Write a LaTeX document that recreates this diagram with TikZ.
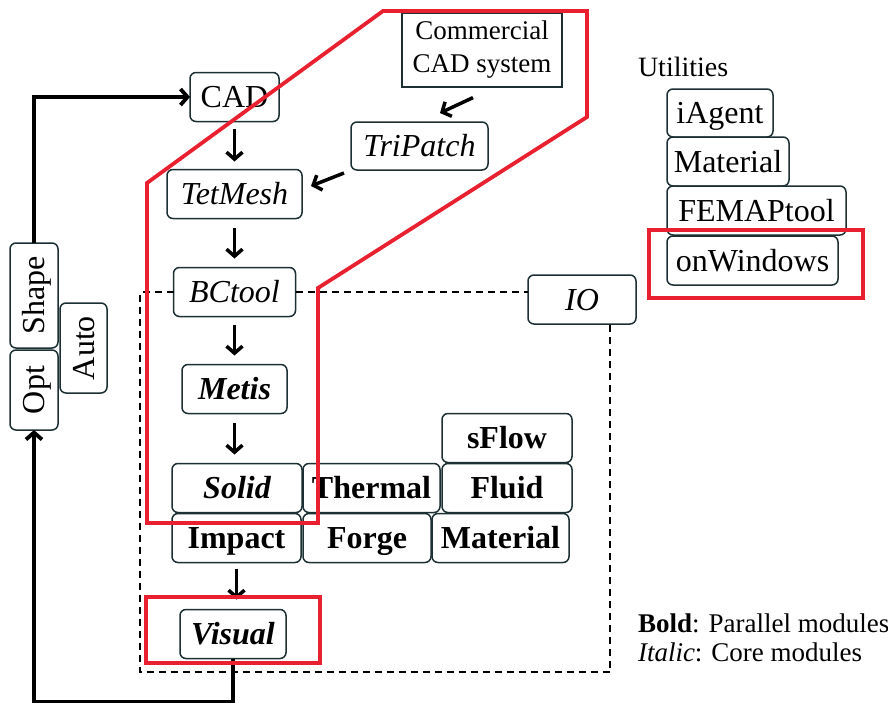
\documentclass[tikz,border=0pt]{standalone}
\usepackage{fontspec}
\setmainfont{Liberation Serif}
\usepackage{tikz}
\usetikzlibrary{arrows.meta, positioning, calc}
\definecolor{framered}{RGB}{232, 32, 48}
\definecolor{boxline}{RGB}{28, 48, 52}

\begin{document}
\begin{tikzpicture}[x=1pt, y=-1pt,
			module/.style={rectangle, rounded corners=6pt, draw=boxline, line width=1.5pt, fill=white, inner sep=0pt, outer sep=0pt, minimum height=49pt, text height=24pt, text depth=3pt, font=\fontsize{32}{38}\selectfont},
			note/.style={inner sep=0pt, outer sep=0pt, font=\fontsize{27}{33}\selectfont},
			arrow/.style={-{Straight Barb[length=7pt, width=16pt]}, line width=3.5pt},
			feedback/.style={-{Straight Barb[length=7pt, width=16pt]}, line width=3.8pt},
			dashbox/.style={dash pattern=on 7pt off 5pt, line width=1.8pt},
			redframe/.style={draw=framered, line width=3.8pt}
		]
		\useasboundingbox (0,0) rectangle (888,704);
		% main column
		\node[module, minimum width=89pt] (cad) at (234.5,97) {CAD};
		\node[module, minimum width=135pt, below=48pt of cad] (tetmesh) {\itshape TetMesh};
		\node[module, minimum width=122pt, below=49pt of tetmesh] (bctool) {\itshape BCtool};
		\node[module, minimum width=105pt, below=48pt of bctool] (metis) {\bfseries\itshape Metis};
		% parallel modules
		\node[module, minimum width=130pt, below=50pt of metis, xshift=2.5pt] (solid) {\bfseries\itshape Solid};
		\node[module, minimum width=137pt, right=1pt of solid] (thermal) {\bfseries Thermal};
		\node[module, minimum width=130pt, right=2pt of thermal] (fluid) {\bfseries Fluid};
		\node[module, minimum width=130pt, above=1pt of fluid] (sflow) {\bfseries sFlow};
		\node[module, minimum width=129pt, below=1pt of solid.south west, anchor=north west] (impact) {\bfseries Impact};
		\node[module, minimum width=128pt, right=2pt of impact] (forge) {\bfseries Forge};
		\node[module, minimum width=137pt, right=1pt of forge] (material) {\bfseries Material};
		\node[module, minimum width=106pt, below=47pt of impact, xshift=-3.5pt] (visual) {\bfseries\itshape Visual};
		% side nodes
		\node[rectangle, draw=boxline, line width=1.2pt, minimum width=160pt, minimum height=74pt, align=center, font=\fontsize{27}{33}\selectfont] (commercial) at (482,50) {Commercial\\CAD system};
		\node[module, minimum width=137pt, minimum height=48pt] (tripatch) at (419.5,146) {\itshape TriPatch};
		\node[module, minimum width=108pt] (io) at (582,299.5) {\itshape IO};
		\node[module, rotate=90, minimum width=105pt, minimum height=48pt] (shape) at (34,295.5) {Shape};
		\node[module, rotate=90, minimum width=80pt, minimum height=48pt] (opt) at (34,390) {Opt};
		\node[module, rotate=90, minimum width=90pt, minimum height=47pt] (auto) at (83.5,348) {Auto};
		% utilities
		\node[note, anchor=west, font=\fontsize{28}{33}\selectfont] (utilities) at (638,67) {Utilities};
		\node[module, minimum width=106pt, minimum height=48pt, anchor=north west] (iagent) at (667,89) {iAgent};
		\node[module, minimum width=122pt, below=0pt of iagent.south west, anchor=north west] (utilmat) {Material};
		\node[module, minimum width=179pt, below=0pt of utilmat.south west, anchor=north west] (femap) {FEMAPtool};
		\node[module, minimum width=171pt, below=1pt of femap.south west, anchor=north west] (onwin) {onWindows};
		% legend
		\node[note, anchor=west] (legbold) at (638,623) {\textbf{Bold}: Parallel modules};
		\node[note, anchor=west] (legital) at (638,652) {\textit{Italic}: Core modules};

		\draw[arrow, shorten <=7pt, shorten >=8pt] (cad) -- (tetmesh);
		\draw[arrow, shorten <=9pt, shorten >=9pt] (tetmesh) -- (bctool);
		\draw[arrow, shorten <=8pt, shorten >=9pt] (bctool) -- (metis);
		\draw[arrow, shorten <=9pt, shorten >=9pt] (metis.south) -- (metis.south |- solid.north);
		\draw[arrow, shorten <=6pt, shorten >=10pt] (impact.south) -- (impact.south |- visual.north);
		\draw[arrow] ([xshift=-9pt, yshift=-10pt]commercial.south) -- ([xshift=20.5pt, yshift=9pt]tripatch.north);
		\draw[arrow] ([xshift=-7pt, yshift=-3pt]tripatch.south west) -- ([xshift=9pt, yshift=8pt]tetmesh.east);
		% optimisation loop
		\draw[feedback] (shape.east) |- (cad.west);
		\draw[feedback] (visual.south) -- ++(0,43) -| (opt.west);

		% IO region
		\coordinate (iotl) at (140,292);
		\coordinate (iobr) at (610,672);
		\draw[dashbox] (bctool.west) -- (iotl) |- (iobr) -- (iobr |- io.south);
		\draw[dashbox] (bctool.east) -- (bctool.east -| io.west);

		% highlighted parts
		\draw[redframe] (147,183) -- (383,11) -- (587,11) -- (587,117) -- (318,288) -- (318,523) -- (147,523) -- cycle;
		\draw[redframe] (146,597) rectangle (320,663);
		\draw[redframe] (649,230) rectangle (863,298);
\end{tikzpicture}
\end{document}
